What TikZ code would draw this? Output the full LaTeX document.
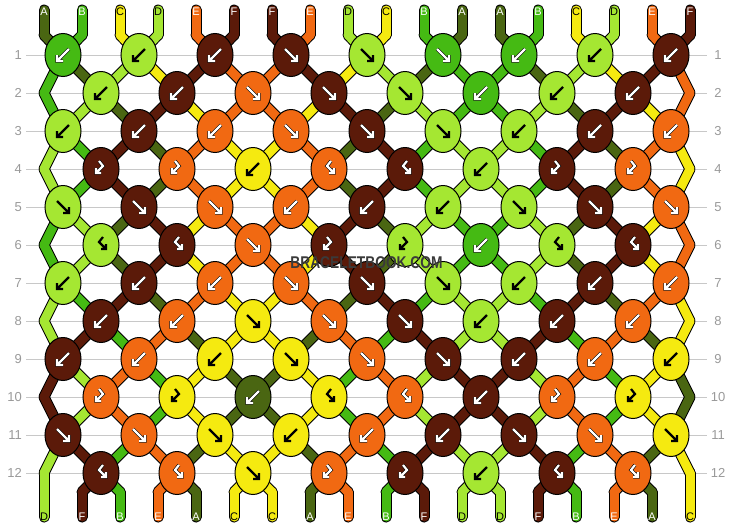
\documentclass[tikz,border=0pt]{standalone}
\usepackage{fontspec}
\setmainfont{Liberation Sans}
\usetikzlibrary{shapes.geometric}

\definecolor{cA}{HTML}{4A6612}
\definecolor{cB}{HTML}{45BA13}
\definecolor{cC}{HTML}{F5EA10}
\definecolor{cD}{HTML}{A5E732}
\definecolor{cE}{HTML}{F16912}
\definecolor{cF}{HTML}{5B1A09}
\definecolor{gridgray}{HTML}{C8C8C8}
\definecolor{numgray}{HTML}{999999}
\definecolor{markgray}{HTML}{3A3A3A}

% text / arrow colour on each thread colour
\def\txtA{white}
\def\txtB{white}
\def\txtC{black}
\def\txtD{black}
\def\txtE{white}
\def\txtF{white}
% rim round the arrow
\def\rimA{black}
\def\rimB{black}
\def\rimC{cC}
\def\rimD{cD}
\def\rimE{black}
\def\rimF{black}

% row/knot/type: f forward, b backward, F forward-backward, B backward-forward
\def\knotlist{1/1/b,1/2/b,1/3/b,1/4/f,1/5/f,1/6/f,1/7/b,1/8/b,1/9/b,%
2/1/b,2/2/b,2/3/f,2/4/f,2/5/f,2/6/b,2/7/b,2/8/b,%
3/1/b,3/2/b,3/3/b,3/4/f,3/5/f,3/6/f,3/7/b,3/8/b,3/9/b,%
4/1/B,4/2/B,4/3/b,4/4/F,4/5/F,4/6/b,4/7/B,4/8/B,%
5/1/f,5/2/f,5/3/f,5/4/b,5/5/b,5/6/b,5/7/f,5/8/f,5/9/f,%
6/1/F,6/2/F,6/3/f,6/4/B,6/5/B,6/6/b,6/7/F,6/8/F,%
7/1/b,7/2/b,7/3/b,7/4/f,7/5/f,7/6/f,7/7/b,7/8/b,7/9/b,%
8/1/b,8/2/b,8/3/f,8/4/f,8/5/f,8/6/b,8/7/b,8/8/b,%
9/1/b,9/2/b,9/3/b,9/4/f,9/5/f,9/6/f,9/7/b,9/8/b,9/9/b,%
10/1/B,10/2/B,10/3/b,10/4/F,10/5/F,10/6/b,10/7/B,10/8/B,%
11/1/f,11/2/f,11/3/f,11/4/b,11/5/b,11/6/b,11/7/f,11/8/f,11/9/f,%
12/1/F,12/2/F,12/3/f,12/4/B,12/5/B,12/6/b,12/7/F,12/8/F}

\begin{document}
\begin{tikzpicture}[x=1pt,y=-1pt,
    knot/.style={ellipse, draw=black, line width=1pt, fill=#1, minimum width=36pt, minimum height=43pt, inner sep=0pt},
    rowno/.style={text=numgray, font=\fontsize{13}{13}\selectfont, inner sep=0pt},
    tag/.style={text=#1, font=\fontsize{11}{11}\selectfont, inner sep=0pt},
    knotarrow/.style={color=#1, line width=2.2pt, line cap=butt, line join=miter},
    rim/.style={preaction={draw=#1, line width=3.4pt}},
    mark/.style={font=\bfseries\fontsize{17}{17}\selectfont, xscale=0.81, inner sep=0pt, text=#1}]
\useasboundingbox (0,0) rectangle (734,528);

% grid lines and row numbers
\foreach \rw in {1,...,12}{
    \pgfmathsetmacro\y{55+38*(\rw-1)}
    \draw[gridgray, line width=1pt] (26,\y) -- (707,\y);
    \node[rowno, anchor=east] (lno\rw) at (22,\y) {\rw};
    \node[rowno] (rno\rw) at (718,\y) {\rw};
}

% threads at the start
\foreach \lt [count=\slot] in {A,B,C,D,E,F,F,E,D,C,B,A,A,B,C,D,E,F}
    {\expandafter\xdef\csname s\slot\endcsname{\lt}}

% work out the colours knot by knot
\foreach \rw/\kn/\ty in \knotlist{
    \ifnum\kn=1
        \foreach \slot in {1,...,18}
            {\expandafter\xdef\csname sc\rw-\slot\endcsname{\csname s\slot\endcsname}}
    \fi
    \pgfmathtruncatemacro\lft{2*\kn-mod(\rw,2)}
    \pgfmathtruncatemacro\rgt{\lft+1}
    \edef\lcol{\csname s\lft\endcsname}
    \edef\rcol{\csname s\rgt\endcsname}
    \expandafter\xdef\csname kc\rw-\kn\endcsname{\lcol}
    \if b\ty\expandafter\xdef\csname kc\rw-\kn\endcsname{\rcol}\fi
    \if B\ty\expandafter\xdef\csname kc\rw-\kn\endcsname{\rcol}\fi
    \if f\ty
        \expandafter\xdef\csname s\lft\endcsname{\rcol}
        \expandafter\xdef\csname s\rgt\endcsname{\lcol}
    \fi
    \if b\ty
        \expandafter\xdef\csname s\lft\endcsname{\rcol}
        \expandafter\xdef\csname s\rgt\endcsname{\lcol}
    \fi
}
\foreach \slot in {1,...,18}
    {\expandafter\xdef\csname sc13-\slot\endcsname{\csname s\slot\endcsname}}

% points every thread passes
\foreach \slot in {1,...,18}{
    \pgfmathsetmacro\xs{44+38*(\slot-1)}
    \coordinate (t\slot) at (\xs,10);
    \coordinate (p0-\slot) at (\xs,35);
    \coordinate (p13-\slot) at (\xs,492);
    \coordinate (e\slot) at (\xs,517);
    \foreach \rw in {1,...,12}{
        \pgfmathsetmacro\y{55+38*(\rw-1)}
        \ifodd\rw
            \pgfmathsetmacro\x{63+76*floor((\slot-1)/2)}
        \else
            \pgfmathsetmacro\x{\slot==1 ? 44 : (\slot==18 ? 690 : 25+76*floor(\slot/2))}
        \fi
        \coordinate (p\rw-\slot) at (\x,\y);
    }
}

% thread outlines
\foreach \slot in {1,...,18}{
    \draw[line width=11pt, line cap=round] (t\slot) -- (p0-\slot);
    \foreach \rw in {1,...,13}{
        \pgfmathtruncatemacro\prev{\rw-1}
        \draw[line width=11pt, line cap=round] (p\prev-\slot) -- (p\rw-\slot);
    }
    \draw[line width=11pt, line cap=round] (p13-\slot) -- (e\slot);
}

% thread colours
\foreach \slot in {1,...,18}{
    \edef\col{c\csname sc1-\slot\endcsname}
    \draw[color=\col, line width=9pt, line cap=round] (t\slot) -- (p0-\slot);
    \foreach \rw in {1,...,13}{
        \pgfmathtruncatemacro\prev{\rw-1}
        \edef\col{c\csname sc\rw-\slot\endcsname}
        \draw[color=\col, line width=9pt, line cap=round] (p\prev-\slot) -- (p\rw-\slot);
    }
    \edef\col{c\csname sc13-\slot\endcsname}
    \draw[color=\col, line width=9pt, line cap=round] (p13-\slot) -- (e\slot);
}

% knots
\foreach \rw/\kn/\ty in \knotlist{
    \pgfmathtruncatemacro\lft{2*\kn-mod(\rw,2)}
    \edef\kcol{\csname kc\rw-\kn\endcsname}
    \edef\acol{\csname txt\kcol\endcsname}
    \edef\rcol{\csname rim\kcol\endcsname}
    \node[knot=c\kcol] (k\rw-\kn) at (p\rw-\lft) {};
    \begin{scope}[shift={(k\rw-\kn.center)}, knotarrow=\acol]
        \if f\ty \draw[rim=\rcol] (-6,-6) -- (6,6) (6,0) -- (6,6) -- (0,6); \fi
        \if b\ty \draw[rim=\rcol] (6,-6) -- (-6,6) (-6,0) -- (-6,6) -- (0,6); \fi
        \if F\ty \draw[rim=\rcol] (2,-8) -- (-2,-3) -- (5,4) (5,-1) -- (5,4) -- (0,4); \fi
        \if B\ty \draw[rim=\rcol] (-2,-8) -- (2,-3) -- (-5,4) (-5,-1) -- (-5,4) -- (0,4); \fi
    \end{scope}
}

% thread letters, top and bottom
\foreach \lt [count=\slot] in {A,B,C,D,E,F,F,E,D,C,B,A,A,B,C,D,E,F}{
    \edef\tcol{\csname txt\lt\endcsname}
    \node[tag=\tcol, yshift=-2pt] (top\slot) at (t\slot) {\lt};
    \edef\bl{\csname s\slot\endcsname}
    \edef\tcol{\csname txt\bl\endcsname}
    \node[tag=\tcol] (bot\slot) at (e\slot) {\bl};
}

% site name
\node[mark=markgray] (mark) at (366.5,262.5) {BRACELETBOOK.COM};
\end{tikzpicture}
\end{document}
